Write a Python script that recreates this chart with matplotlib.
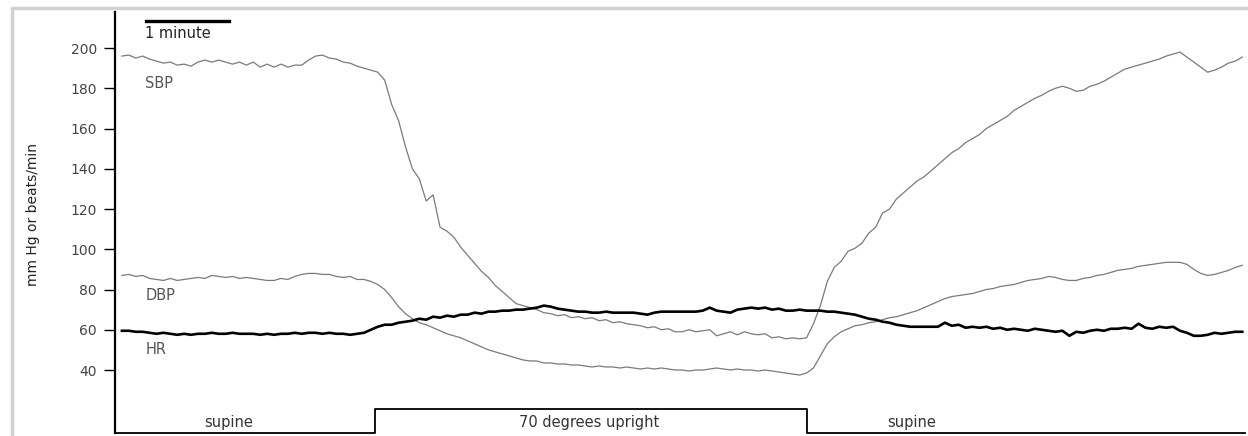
import numpy as np
import matplotlib
matplotlib.use("Agg")
import matplotlib.pyplot as plt
from matplotlib.lines import Line2D

# Tiempo en segundos (una muestra cada 5 s)
tiempo = np.arange(5, 820, 5)

sbp = [196, 196.5, 195, 196, 194.5, 193.5, 192.5, 193, 191.5, 192,
       191, 193, 194, 193, 194, 193, 192, 193, 191.5, 193,
       190.5, 192, 190.5, 192, 190.5, 191.5, 191.5, 194, 196, 196.5,
       195, 194.5, 193, 192.5, 191, 190, 189, 188, 184, 172,
       164, 151, 140, 135, 124, 127, 111, 109, 106, 101,
       97, 93, 89, 86, 82, 79, 76, 73, 72, 71,
       70, 68.5, 68, 67, 67.5, 66, 66.5, 65.5, 66, 64.5,
       65, 63.5, 64, 63, 62.5, 62, 61, 61.5, 60, 60.5,
       59, 59, 60, 59, 59.5, 60, 57, 58, 59, 57.5,
       59, 58, 57.5, 58, 56, 56.5, 55.5, 56, 55.5, 56,
       63, 72, 84, 91, 94, 99, 100.5, 103, 108, 111,
       118, 120, 125, 128, 131, 134, 136, 139, 142, 145,
       148, 150, 153, 155, 157, 160, 162, 164, 166, 169,
       171, 173, 175, 176.5, 178.5, 180, 181, 180, 178.5, 179,
       181, 182, 183.5, 185.5, 187.5, 189.5, 190.5, 191.5, 192.5, 193.5,
       194.5, 196, 197, 198, 195.5, 193, 190.5, 188, 189, 190.5,
       192.5, 193.5, 195.5]

dbp = [87, 87.5, 86.5, 87, 85.5, 85, 84.5, 85.5, 84.5, 85,
       85.5, 86, 85.5, 87, 86.5, 86, 86.5, 85.5, 86, 85.5,
       85, 84.5, 84.5, 85.5, 85, 86.5, 87.5, 88, 88, 87.5,
       87.5, 86.5, 86, 86.5, 85, 85, 84, 82.5, 80, 76,
       71.5, 68, 65.5, 63.5, 62.5, 61, 59.5, 58, 57, 56,
       54.5, 53, 51.5, 50, 49, 48, 47, 46, 45, 44.5,
       44.5, 43.5, 43.5, 43, 43, 42.5, 42.5, 42, 41.5, 42,
       41.5, 41.5, 41, 41.5, 41, 40.5, 41, 40.5, 41, 40.5,
       40, 40, 39.5, 40, 40, 40.5, 41, 40.5, 40, 40.5,
       40, 40, 39.5, 40, 39.5, 39, 38.5, 38, 37.5, 38.5,
       41, 47, 53, 56.5, 59, 60.5, 62, 62.5, 63.5, 64,
       65, 66, 66.5, 67.5, 68.5, 69.5, 71, 72.5, 74, 75.5,
       76.5, 77, 77.5, 78, 79, 80, 80.5, 81.5, 82, 82.5,
       83.5, 84.5, 85, 85.5, 86.5, 86, 85, 84.5, 84.5, 85.5,
       86, 87, 87.5, 88.5, 89.5, 90, 90.5, 91.5, 92, 92.5,
       93, 93.5, 93.5, 93.5, 92.5, 90, 88, 87, 87.5, 88.5,
       89.5, 91, 92]

hr = [59.5, 59.5, 59, 59, 58.5, 58, 58.5, 58, 57.5, 58,
      57.5, 58, 58, 58.5, 58, 58, 58.5, 58, 58, 58,
      57.5, 58, 57.5, 58, 58, 58.5, 58, 58.5, 58.5, 58,
      58.5, 58, 58, 57.5, 58, 58.5, 60, 61.5, 62.5, 62.5,
      63.5, 64, 64.5, 65.5, 65, 66.5, 66, 67, 66.5, 67.5,
      67.5, 68.5, 68, 69, 69, 69.5, 69.5, 70, 70, 70.5,
      71, 72, 71.5, 70.5, 70, 69.5, 69, 69, 68.5, 68.5,
      69, 68.5, 68.5, 68.5, 68.5, 68, 67.5, 68.5, 69, 69,
      69, 69, 69, 69, 69.5, 71, 69.5, 69, 68.5, 70,
      70.5, 71, 70.5, 71, 70, 70.5, 69.5, 69.5, 70, 69.5,
      69.5, 69.5, 69, 69, 68.5, 68, 67.5, 66.5, 65.5, 65,
      64, 63.5, 62.5, 62, 61.5, 61.5, 61.5, 61.5, 61.5, 63.5,
      62, 62.5, 61, 61.5, 61, 61.5, 60.5, 61, 60, 60.5,
      60, 59.5, 60.5, 60, 59.5, 59, 59.5, 57, 59, 58.5,
      59.5, 60, 59.5, 60.5, 60.5, 61, 60.5, 63, 61, 60.5,
      61.5, 61, 61.5, 59.5, 58.5, 57, 57, 57.5, 58.5, 58,
      58.5, 59, 59]

# Posición del cuerpo: 0 = supino, 1 = inclinación a 70 grados
pos_tiempo = [0, 188, 188, 500, 500, 817]
pos_estado = [0, 0, 1, 1, 0, 0]
fases = ["supine", "70 degrees upright", "supine"]
fases_centro = [82, 343, 576]

yticks = [40, 60, 80, 100, 120, 140, 160, 180, 200]

fig = plt.figure(figsize=(12.48, 4.36), dpi=100)
ax = fig.add_axes([115 / 1248, 3 / 436, 1130 / 1248, 421 / 436])

gris = "#7a7a7a"
ax.plot(tiempo, sbp, color=gris, lw=0.9)
ax.plot(tiempo, dbp, color=gris, lw=0.9)
ax.plot(tiempo, hr, color="black", lw=1.9)

# Trazo de posición abajo
base, alto = 8.8, 20.6
ax.plot(pos_tiempo, [base + (alto - base) * s for s in pos_estado],
        color="black", lw=1.3, clip_on=False)
for nombre, xc in zip(fases, fases_centro):
    ax.text(xc, 13.8, nombre, ha="center", va="center", fontsize=10.5, color="#333333")

# Etiquetas de las curvas
ax.text(22, 182.6, "SBP", ha="left", va="center", fontsize=10.5, color="#555555")
ax.text(22, 77.2, "DBP", ha="left", va="center", fontsize=10.5, color="#555555")
ax.text(22, 50, "HR", ha="left", va="center", fontsize=10.5, color="#555555")

# Barra de escala de 1 minuto
ax.plot([22.5, 82.5], [213.4, 213.4], color="black", lw=2.4, clip_on=False)
ax.text(22, 207, "1 minute", ha="left", va="center", fontsize=10.5, color="#222222")

ax.set_xlim(0, 817)
ax.set_ylim(8.7, 217.9)
ax.set_yticks(yticks)
ax.set_xticks([])
for lado in ["top", "right", "bottom"]:
    ax.spines[lado].set_visible(False)
ax.spines["left"].set_linewidth(1.6)
ax.tick_params(axis="y", length=8, width=1, pad=5, labelsize=10, labelcolor="#444444")
ax.set_ylabel("mm Hg or beats/min", fontsize=10, color="#222222")
ax.yaxis.set_label_coords(-75 / 1130, 0.52)

# Marco gris claro de la figura
fig.add_artist(Line2D([12 / 1248, 12 / 1248, 1], [0, 1 - 8 / 436, 1 - 8 / 436],
                      transform=fig.transFigure, color="#d2d2d2", lw=2.5))

fig.savefig("out.png", dpi=100)
